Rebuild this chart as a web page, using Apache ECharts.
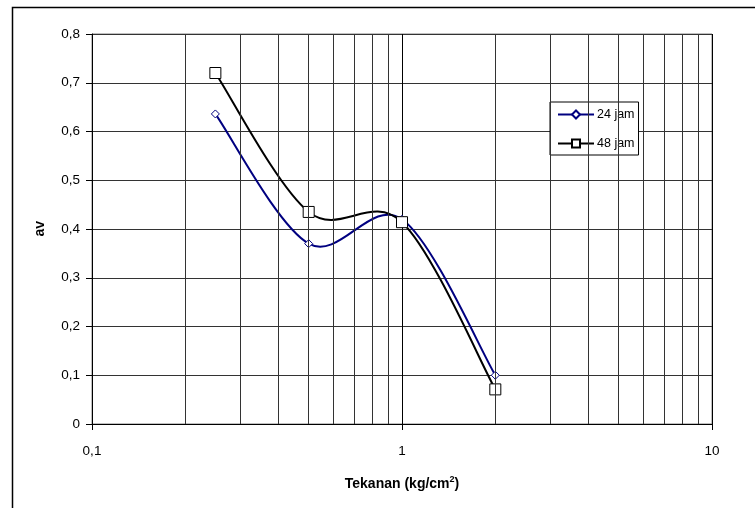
<!DOCTYPE html>
<html>
<head>
<meta charset="utf-8">
<script src="https://cdn.jsdelivr.net/npm/echarts@6/dist/echarts.min.js"></script>
<style>
html,body{margin:0;padding:0;background:#fff;}
#c{width:755px;height:508px;}
</style>
</head>
<body>
<div id="c"></div>
<script>
// Data
var pressure = [0.25, 0.5, 1, 2];
var av24 = [0.636, 0.370, 0.420, 0.100];
var av48 = [0.720, 0.435, 0.414, 0.071];
var seriesNames = ['24 jam', '48 jam'];
var seriesColors = ['#000080', '#000000'];
var minorGridX = [0.2, 0.3, 0.4, 0.5, 0.6, 0.7, 0.8, 0.9, 2, 3, 4, 5, 6, 7, 8, 9];
var xTickLabels = {0.1: '0,1', 1: '1', 10: '10'};

function pairs(xs, ys) { return xs.map(function (x, i) { return [x, ys[i]]; }); }

// Smoothed curve (Catmull-Rom, like the spreadsheet's smoothed line) drawn through
// the data points converted by the chart's own axes.
function curveRenderer(xs, ys, color) {
  return function (params, api) {
    var i = params.dataIndex, n = xs.length;
    if (i >= n - 1) return null;
    function P(k) { k = Math.max(0, Math.min(n - 1, k)); return api.coord([xs[k], ys[k]]); }
    var p0 = P(i - 1), p1 = P(i), p2 = P(i + 1), p3 = P(i + 2);
    return {
      type: 'bezierCurve',
      shape: {
        x1: p1[0], y1: p1[1], x2: p2[0], y2: p2[1],
        cpx1: p1[0] + (p2[0] - p0[0]) / 6, cpy1: p1[1] + (p2[1] - p0[1]) / 6,
        cpx2: p2[0] - (p3[0] - p1[0]) / 6, cpy2: p2[1] - (p3[1] - p1[1]) / 6
      },
      style: {stroke: color, lineWidth: 2, fill: null, lineJoin: 'round'},
      silent: true
    };
  };
}

var chart = echarts.init(document.getElementById('c'), null, {renderer: 'canvas'});
var font = 'Arial, "Liberation Sans", sans-serif';

chart.setOption({
  backgroundColor: '#fff',
  animation: false,
  textStyle: {fontFamily: font},
  graphic: [
    {type: 'rect', left: 10, top: 5, shape: {width: 800, height: 600}, style: {fill: 'none', stroke: '#000', lineWidth: 1.5}, z: -10, silent: true},
    {type: 'text', left: 33, top: 221, rotation: Math.PI / 2, style: {text: 'av', font: 'bold 14px ' + font, fill: '#000'}}
  ],
  grid: {left: 92, right: 43, top: 34, bottom: 84, show: true, borderColor: '#808080', borderWidth: 1, backgroundColor: '#fff'},
  legend: {
    orient: 'vertical', left: 550, top: 102,
    backgroundColor: '#fff', borderColor: '#000', borderWidth: 1,
    padding: [6, 4, 5, 7], itemGap: 16, itemWidth: 36, itemHeight: 10,
    textStyle: {fontSize: 12.5, fontFamily: font, color: '#000', padding: [0, 0, 0, -2]},
    data: [
      {name: seriesNames[0], lineStyle: {color: seriesColors[0], width: 2, opacity: 1}},
      {name: seriesNames[1], lineStyle: {color: seriesColors[1], width: 2, opacity: 1}}
    ]
  },
  xAxis: {
    type: 'log', logBase: 10, min: 0.1, max: 10,
    name: '{a|Tekanan (kg/cm}{s|2}{a|)}',
    nameLocation: 'middle', nameGap: 51,
    nameTextStyle: {
      rich: {
        a: {fontSize: 14, fontWeight: 'bold', fontFamily: font, color: '#000'},
        s: {fontSize: 9, fontWeight: 'bold', fontFamily: font, color: '#000', padding: [0, 0, 9, 0]}
      }
    },
    axisLine: {show: true, onZero: false, lineStyle: {color: '#000', width: 1}},
    axisTick: {show: true, length: 6, lineStyle: {color: '#000'}},
    axisLabel: {margin: 20, fontSize: 13.5, color: '#000', fontFamily: font,
      formatter: function (v) { return xTickLabels[v] !== undefined ? xTickLabels[v] : String(v).replace('.', ','); }},
    splitLine: {show: true, lineStyle: {color: '#000', width: 1}},
    minorTick: {show: false}, minorSplitLine: {show: false}
  },
  yAxis: {
    type: 'value', min: 0, max: 0.8, interval: 0.1,
    axisLine: {show: true, lineStyle: {color: '#000', width: 1}},
    axisTick: {show: true, length: 6, lineStyle: {color: '#000'}},
    axisLabel: {margin: 12, fontSize: 13.5, color: '#000', fontFamily: font,
      formatter: function (v) { return (Math.round(v * 10) / 10).toString().replace('.', ','); }},
    splitLine: {show: true, lineStyle: {color: '#333', width: 1}}
  },
  series: [
    {
      name: 'grid', type: 'line', data: [], silent: true,
      markLine: {
        silent: true, symbol: ['none', 'none'], label: {show: false},
        lineStyle: {color: '#333', type: 'solid', width: 1},
        emphasis: {disabled: true},
        data: minorGridX.map(function (v) { return {xAxis: v}; })
      }
    },
    {
      name: 'curve24', type: 'custom', data: pairs(pressure, av24),
      renderItem: curveRenderer(pressure, av24, seriesColors[0]), z: 2, silent: true
    },
    {
      name: 'curve48', type: 'custom', data: pairs(pressure, av48),
      renderItem: curveRenderer(pressure, av48, seriesColors[1]), z: 2, silent: true
    },
    {
      name: seriesNames[0], type: 'line',
      data: pairs(pressure, av24),
      symbol: 'diamond', symbolSize: 8,
      lineStyle: {color: seriesColors[0], width: 2, opacity: 0},
      itemStyle: {color: '#fff', borderColor: seriesColors[0], borderWidth: 1},
      z: 3
    },
    {
      name: seriesNames[1], type: 'line',
      data: pairs(pressure, av48),
      symbol: 'rect', symbolSize: 11,
      lineStyle: {color: seriesColors[1], width: 2, opacity: 0},
      itemStyle: {color: '#fff', borderColor: seriesColors[1], borderWidth: 1},
      z: 4
    }
  ]
});
</script>
</body>
</html>
